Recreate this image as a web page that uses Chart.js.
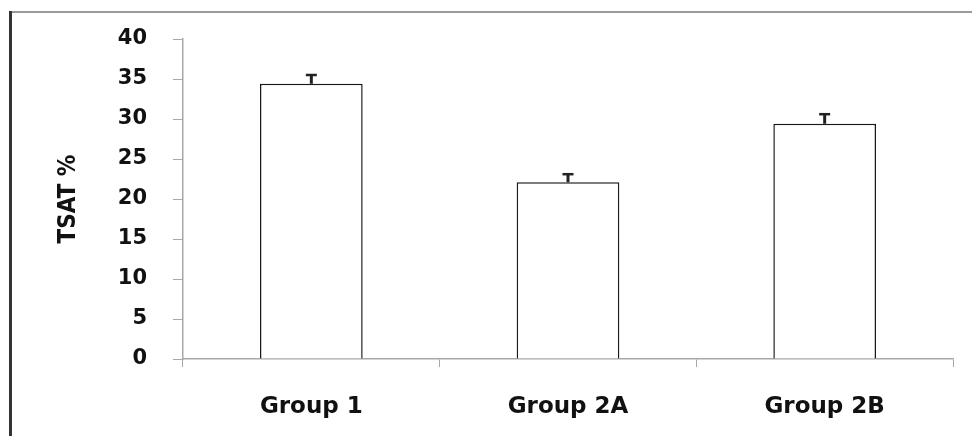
<!DOCTYPE html>
<html>
<head>
<meta charset="utf-8">
<script src="https://cdn.jsdelivr.net/npm/chart.js@4"></script>
<style>
  html, body { margin: 0; padding: 0; background: #fff; }
  #wrap { width: 972px; height: 436px; position: relative; }
</style>
</head>
<body>
<div id="wrap"><canvas id="tsat-chart"></canvas></div>
<script>
// values
const groups = ['Group 1', 'Group 2A', 'Group 2B'];
const tsatValues = [34.4, 22.1, 29.4];
const tsatErrors = [1.1, 1.0, 1.2];
const yTicks = [0, 5, 10, 15, 20, 25, 30, 35, 40];

// white page plus the frame lines on the left and top
const framePlugin = {
    id: 'frame',
    beforeDraw(chart) {
        const ctx = chart.ctx;
        ctx.save();
        ctx.fillStyle = '#fff';
        ctx.fillRect(0, 0, chart.width, chart.height);
        ctx.strokeStyle = '#9a9a9a';
        ctx.lineWidth = 2;
        ctx.beginPath();
        ctx.moveTo(9, 12);
        ctx.lineTo(chart.width, 12);
        ctx.stroke();
        ctx.strokeStyle = '#333';
        ctx.lineWidth = 3;
        ctx.beginPath();
        ctx.moveTo(10.5, 11);
        ctx.lineTo(10.5, chart.height);
        ctx.stroke();
        ctx.restore();
    }
};

// plus-only error bars, drawn from the same scales as the bars
const errorBarPlugin = {
    id: 'errorBars',
    afterDatasetsDraw(chart) {
        const ctx = chart.ctx;
        const yScale = chart.scales.y;
        const meta = chart.getDatasetMeta(0);
        ctx.save();
        ctx.strokeStyle = '#222';
        meta.data.forEach((bar, i) => {
            const top = yScale.getPixelForValue(tsatValues[i] + tsatErrors[i]);
            ctx.lineWidth = 3;
            ctx.beginPath();
            ctx.moveTo(bar.x, bar.y);
            ctx.lineTo(bar.x, top);
            ctx.stroke();
            ctx.lineWidth = 2.5;
            ctx.beginPath();
            ctx.moveTo(bar.x - 5.5, top);
            ctx.lineTo(bar.x + 5.5, top);
            ctx.stroke();
        });
        ctx.restore();
    }
};

new Chart(document.getElementById('tsat-chart'), {
    type: 'bar',
    data: {
        labels: groups,
        datasets: [{
            label: 'TSAT %',
            data: tsatValues,
            backgroundColor: '#fff',
            borderColor: '#1a1a1a',
            borderWidth: 1.5,
            borderSkipped: 'bottom',
            categoryPercentage: 1.0,
            barPercentage: 0.4
        }]
    },
    options: {
        responsive: true,
        maintainAspectRatio: false,
        animation: false,
        layout: {
            padding: { left: 0, top: 39, right: 19, bottom: 0 }
        },
        plugins: {
            legend: { display: false },
            tooltip: { enabled: false }
        },
        scales: {
            x: {
                offset: true,
                grid: {
                    offset: true,
                    drawOnChartArea: false,
                    drawTicks: true,
                    tickLength: 8,
                    color: '#a8a8a8'
                },
                border: { color: '#a8a8a8', width: 1.5 },
                ticks: {
                    color: '#111',
                    padding: 26,
                    font: { family: '"DejaVu Sans", Verdana, sans-serif', size: 23, weight: 'bold' }
                },
                afterFit(scale) {
                    scale.height = 77;
                }
            },
            y: {
                min: 0,
                max: 40,
                afterBuildTicks(scale) {
                    scale.ticks = yTicks.map(v => ({ value: v }));
                },
                grid: {
                    drawOnChartArea: false,
                    drawTicks: true,
                    tickLength: 10,
                    color: '#a8a8a8'
                },
                border: { color: '#a8a8a8', width: 1.5 },
                ticks: {
                    color: '#111',
                    padding: 26,
                    font: { family: '"DejaVu Sans", Verdana, sans-serif', size: 21, weight: 'bold' }
                },
                title: {
                    display: true,
                    text: 'TSAT %',
                    color: '#111',
                    padding: { top: 54, bottom: 0 },
                    font: { family: '"DejaVu Sans Condensed", "Liberation Sans Narrow", sans-serif', size: 24, weight: 'bold' }
                },
                afterFit(scale) {
                    scale.width = 183;
                }
            }
        }
    },
    plugins: [framePlugin, errorBarPlugin]
});
</script>
</body>
</html>
